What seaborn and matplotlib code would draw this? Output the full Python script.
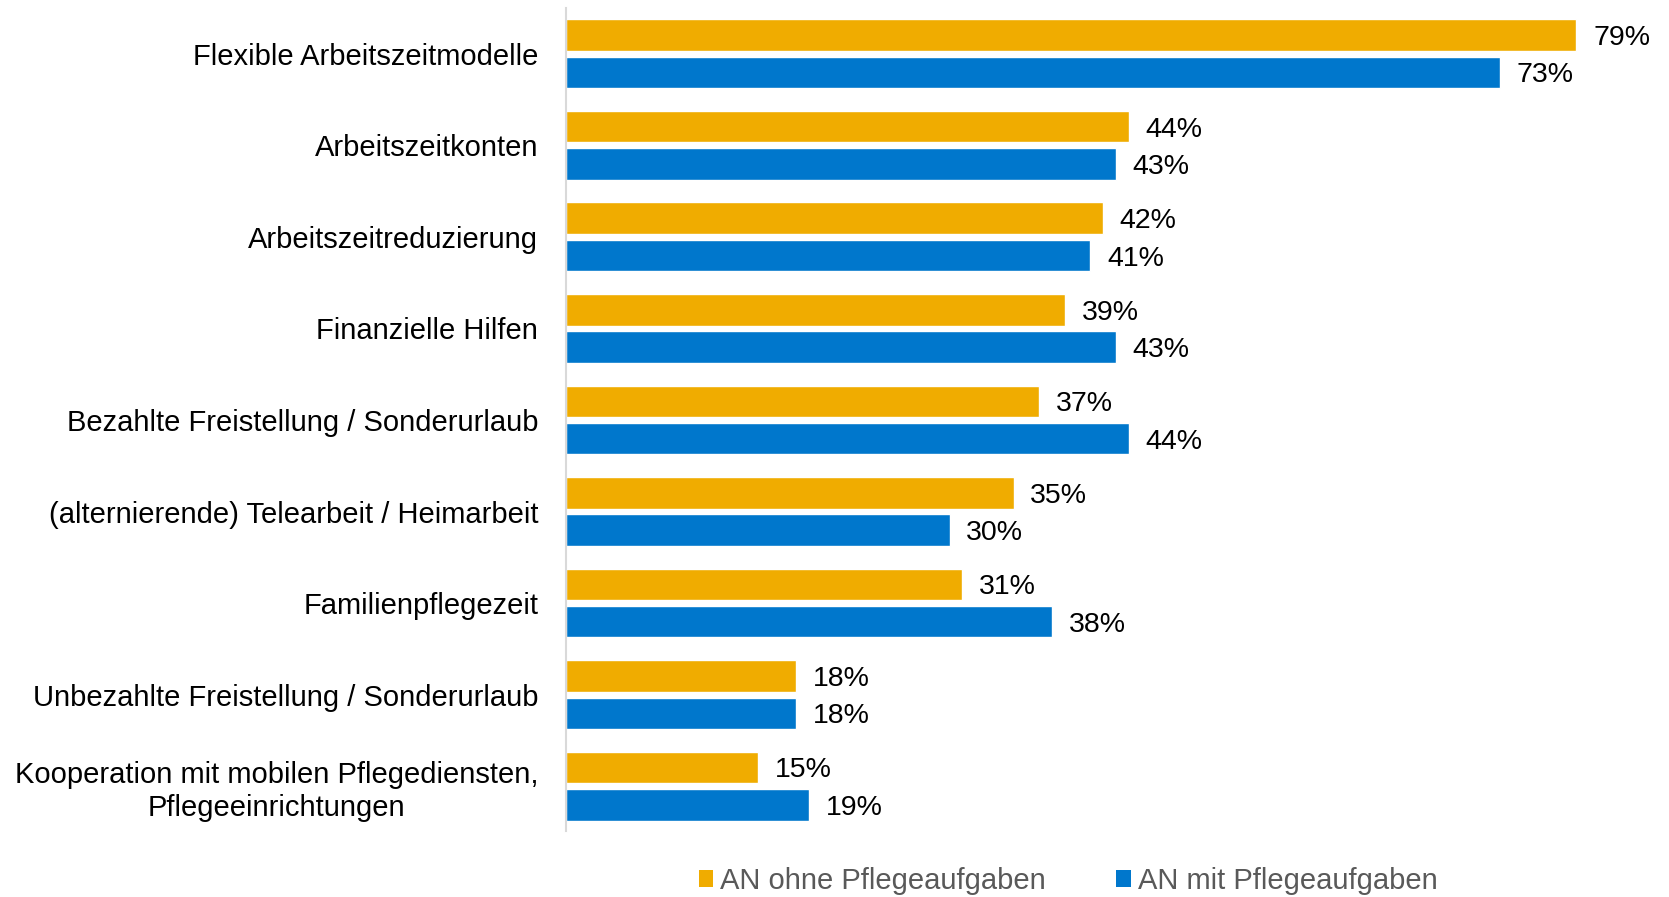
import pandas as pd
import matplotlib.pyplot as plt
import seaborn as sns
from matplotlib.patches import Patch

categories = [
    "Flexible Arbeitszeitmodelle",
    "Arbeitszeitkonten",
    "Arbeitszeitreduzierung",
    "Finanzielle Hilfen",
    "Bezahlte Freistellung / Sonderurlaub",
    "(alternierende) Telearbeit / Heimarbeit",
    "Familienpflegezeit",
    "Unbezahlte Freistellung / Sonderurlaub",
    "Kooperation mit mobilen Pflegediensten,\nPflegeeinrichtungen",
]
ohne_pflege = [79, 44, 42, 39, 37, 35, 31, 18, 15]
mit_pflege = [73, 43, 41, 43, 44, 30, 38, 18, 19]
series = ["AN ohne Pflegeaufgaben", "AN mit Pflegeaufgaben"]
colors = ["#F0AC00", "#0077CC"]

df = pd.DataFrame({
    "Kategorie": categories * 2,
    "Gruppe": [series[0]] * len(categories) + [series[1]] * len(categories),
    "Wert": ohne_pflege + mit_pflege,
})

sns.set_theme(style="white")
plt.rcParams["font.family"] = ["Liberation Sans", "DejaVu Sans"]

fig = plt.figure(figsize=(16.69, 8.97), dpi=100)
ax = fig.add_axes([566 / 1669, 1 - 831 / 897, 1 - 566 / 1669, (831 - 8) / 897])

sns.barplot(data=df, x="Wert", y="Kategorie", hue="Gruppe", order=categories,
            hue_order=series, palette=colors, orient="h", width=0.815, gap=0.156,
            saturation=1, legend=False, ax=ax)

# Prozentwerte neben den Balken
for cont in ax.containers:
    texts = ax.bar_label(cont, labels=[f"{v:.0f}%" for v in cont.datavalues],
                         padding=12, fontsize=20.5, color="black")
    for t in texts:
        t.set_va("center_baseline")

ax.set_xlim(0, (1669 - 566) / 12.79)
ax.set_ylim(len(categories) - 0.51, -0.5)
ax.set_xlabel("")
ax.set_ylabel("")
ax.set_xticks([])
ax.tick_params(axis="y", length=0, pad=20)
for lbl in ax.get_yticklabels():
    lbl.set_fontsize(21)
    lbl.set_multialignment("center")
    lbl.set_color("black")

for s in ["top", "right", "bottom"]:
    ax.spines[s].set_visible(False)
ax.spines["left"].set_color("#D9D9D9")
ax.spines["left"].set_linewidth(1.5)

handles = [Patch(facecolor=c, edgecolor="none") for c in colors]
fig.legend(handles, series, loc="center", bbox_to_anchor=(0.64, 0.018), ncol=2,
           frameon=False, fontsize=21, handlelength=0.5, handleheight=0.5,
           handletextpad=0.25, columnspacing=2.4, labelcolor="#595959")

fig.savefig("out.png", dpi=100)
